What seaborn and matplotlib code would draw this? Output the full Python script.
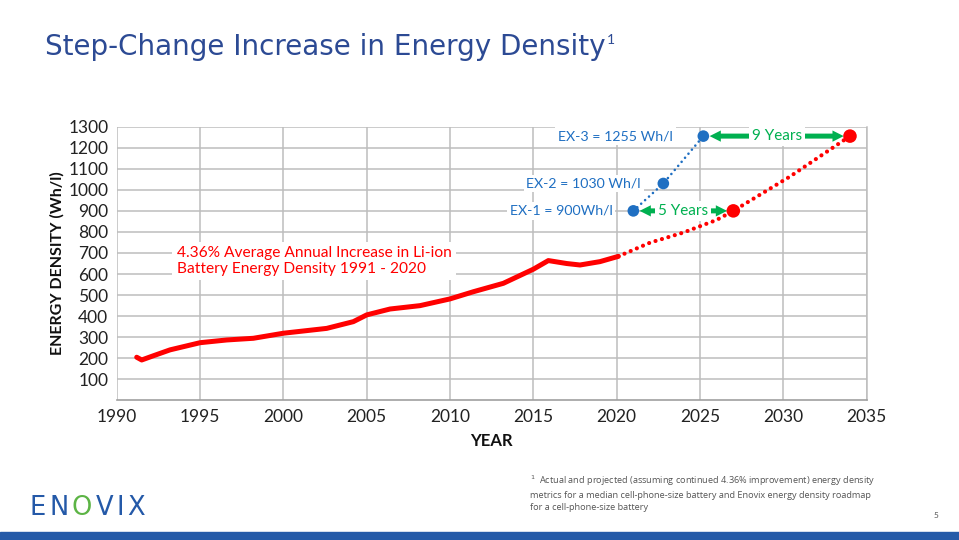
import matplotlib
matplotlib.use("Agg")
import matplotlib.pyplot as plt
import seaborn as sns
import pandas as pd
from matplotlib.patches import Rectangle

# ---- data ----
years_actual = [1991.2, 1991.5, 1992.2, 1993.2, 1995.0, 1996.6, 1998.2, 2000.0, 2002.6,
                2004.2, 2005.0, 2006.4, 2008.2, 2010.0, 2011.4, 2013.2, 2015.0, 2015.9,
                2017.0, 2017.8, 2019.0, 2020.1]
density_actual = [205, 192, 212, 240, 274, 287, 295, 319, 342,
                  374, 406, 434, 450, 482, 516, 556, 623, 664,
                  650, 643, 659, 684]

years_proj = [2020.1, 2022.0, 2024.0, 2026.0, 2027.0, 2030.4, 2034.0]
density_proj = [684, 749, 797, 857, 900, 1063, 1255]

proj_marks_years = [2027.0, 2034.0]
proj_marks_density = [900, 1255]

enovix_years = [2021.0, 2022.8, 2025.2]
enovix_density = [900, 1030, 1255]
enovix_labels = ["EX-1 = 900Wh/l", "EX-2 = 1030 Wh/l", "EX-3 = 1255 Wh/l"]

gap_labels = ["5 Years", "9 Years"]

x_ticks = list(range(1990, 2036, 5))
y_ticks = list(range(100, 1301, 100))

# ---- style ----
RED = "#ff0000"
BLUE = "#1f6fc2"
GREEN = "#00b050"
TITLE_BLUE = "#2c4a94"
LOGO_BLUE = "#2459a8"
LOGO_GREEN = "#5cb445"
GRID = "#bdbdbd"
FONT = "Lato"
label_offsets = [-15, -16, -22]   # gap (pt) between each EX label and its dot

sns.set_theme(style="white")
plt.rcParams["font.family"] = [FONT, "DejaVu Sans"]

fig = plt.figure(figsize=(9.59, 5.4), dpi=100)
ax = fig.add_axes([0.1217, 0.2585, 0.782, 0.507])

act = pd.DataFrame({"year": years_actual, "density": density_actual})
proj = pd.DataFrame({"year": years_proj, "density": density_proj})
ex = pd.DataFrame({"year": enovix_years, "density": enovix_density})
pm = pd.DataFrame({"year": proj_marks_years, "density": proj_marks_density})

sns.lineplot(data=proj, x="year", y="density", sort=False, estimator=None, ax=ax,
             color=RED, lw=3.0, linestyle=(0, (0.01, 1.6)), dash_capstyle="round", zorder=3)
sns.lineplot(data=act, x="year", y="density", sort=False, estimator=None, ax=ax,
             color=RED, lw=3.6, solid_capstyle="round", solid_joinstyle="round", zorder=4)
sns.lineplot(data=ex, x="year", y="density", sort=False, estimator=None, ax=ax,
             color=BLUE, lw=1.9, linestyle=(0, (0.01, 2.0)), dash_capstyle="round", zorder=3)
sns.scatterplot(data=pm, x="year", y="density", ax=ax, color=RED, s=95,
                edgecolor="none", zorder=6)
sns.scatterplot(data=ex, x="year", y="density", ax=ax, color=BLUE, s=70,
                edgecolor="none", zorder=6)

ax.set_xlim(1990, 2035)
ax.set_ylim(0, 1300)
ax.set_xticks(x_ticks)
ax.set_yticks(y_ticks)
ax.tick_params(axis="both", length=0, labelsize=12.5, colors="#222222")
ax.tick_params(axis="x", pad=6)
ax.tick_params(axis="y", pad=6)
ax.grid(True, color=GRID, lw=1.1)
ax.set_axisbelow(True)
for s in ["top", "left"]:
    ax.spines[s].set_visible(False)
ax.spines["right"].set_color(GRID)
ax.spines["right"].set_linewidth(1.1)
ax.spines["bottom"].set_color("#a0a0a0")
ax.spines["bottom"].set_linewidth(1.2)

ax.set_xlabel("YEAR", fontsize=12, fontweight="bold", color="#111111", labelpad=6)
ax.set_ylabel("ENERGY DENSITY (Wh/l)", fontsize=11.5, fontweight="bold",
              color="#111111", labelpad=3)

# Enovix labels, left of each blue point
white = dict(boxstyle="square,pad=0.2", fc="white", ec="none")
for yr, d, lab, off in zip(enovix_years, enovix_density, enovix_labels, label_offsets):
    ax.annotate(lab, (yr, d), xytext=(off, 0), textcoords="offset points",
                ha="right", va="center", fontsize=10.2, color=BLUE, bbox=white, zorder=5)

# green "years" gaps between Enovix points and the projection
starts = [(enovix_years[0], enovix_density[0]), (enovix_years[2], enovix_density[2])]
ends = [(proj_marks_years[0], proj_marks_density[0]), (proj_marks_years[1], proj_marks_density[1])]
arrow = dict(arrowstyle="simple,head_length=0.9,head_width=0.9,tail_width=0.4",
             color=GREEN, lw=0, mutation_scale=9, shrinkA=0, shrinkB=4.5)
for (x0, y0), (x1, y1), lab in zip(starts, ends, gap_labels):
    mid = (x0 + x1) / 2
    ax.annotate("", xy=(x0, y0), xytext=(mid, y0), arrowprops=arrow, zorder=4)
    ax.annotate("", xy=(x1, y1), xytext=(mid, y0), arrowprops=arrow, zorder=4)
    ax.text(mid, y0, lab, ha="center", va="center", fontsize=11, color=GREEN,
            bbox=dict(boxstyle="square,pad=0.2", fc="white", ec="none"), zorder=5)

ax.text(1993.6, 662, "4.36% Average Annual Increase in Li-ion\nBattery Energy Density 1991 - 2020",
        ha="left", va="center", fontsize=11.2, color=RED, linespacing=1.1,
        bbox=dict(boxstyle="square,pad=0.3", fc="white", ec="none"), zorder=5)

# slide furniture
title = fig.text(0.047, 0.913, "Step-Change Increase in Energy Density", fontsize=20,
                 color=TITLE_BLUE, va="center", ha="left", family=["DejaVu Sans"])
ax.annotate("1", xy=(1, 1), xycoords=title, xytext=(1, -1), textcoords="offset points",
            ha="left", va="top", fontsize=10, color=TITLE_BLUE, annotation_clip=False)

fig.text(0.553, 0.087,
         "$^{1}$  Actual and projected (assuming continued 4.36% improvement) energy density\n"
         "metrics for a median cell-phone-size battery and Enovix energy density roadmap\n"
         "for a cell-phone-size battery",
         fontsize=6.6, color="#555555", va="center", ha="left", linespacing=1.45,
         family=["Open Sans", "DejaVu Sans"])
fig.text(0.976, 0.045, "5", fontsize=6, color="#555555", ha="center", va="center")

# logo: letters spaced out, the O in green
logo_kw = dict(fontsize=18.5, va="bottom", ha="left", family=["DejaVu Sans"])
prev = fig.text(0.031, 0.036, "E", color=LOGO_BLUE, **logo_kw)
for ch in "NOVIX":
    col = LOGO_GREEN if ch == "O" else LOGO_BLUE
    prev = ax.annotate(ch, xy=(1, 0), xycoords=prev, xytext=(2.4, 0),
                       textcoords="offset points", color=col,
                       annotation_clip=False, **logo_kw)

fig.patches.append(Rectangle((0, 0), 1, 0.015, transform=fig.transFigure,
                             color="#255aa8", zorder=10))

fig.savefig("out.png", dpi=100)
